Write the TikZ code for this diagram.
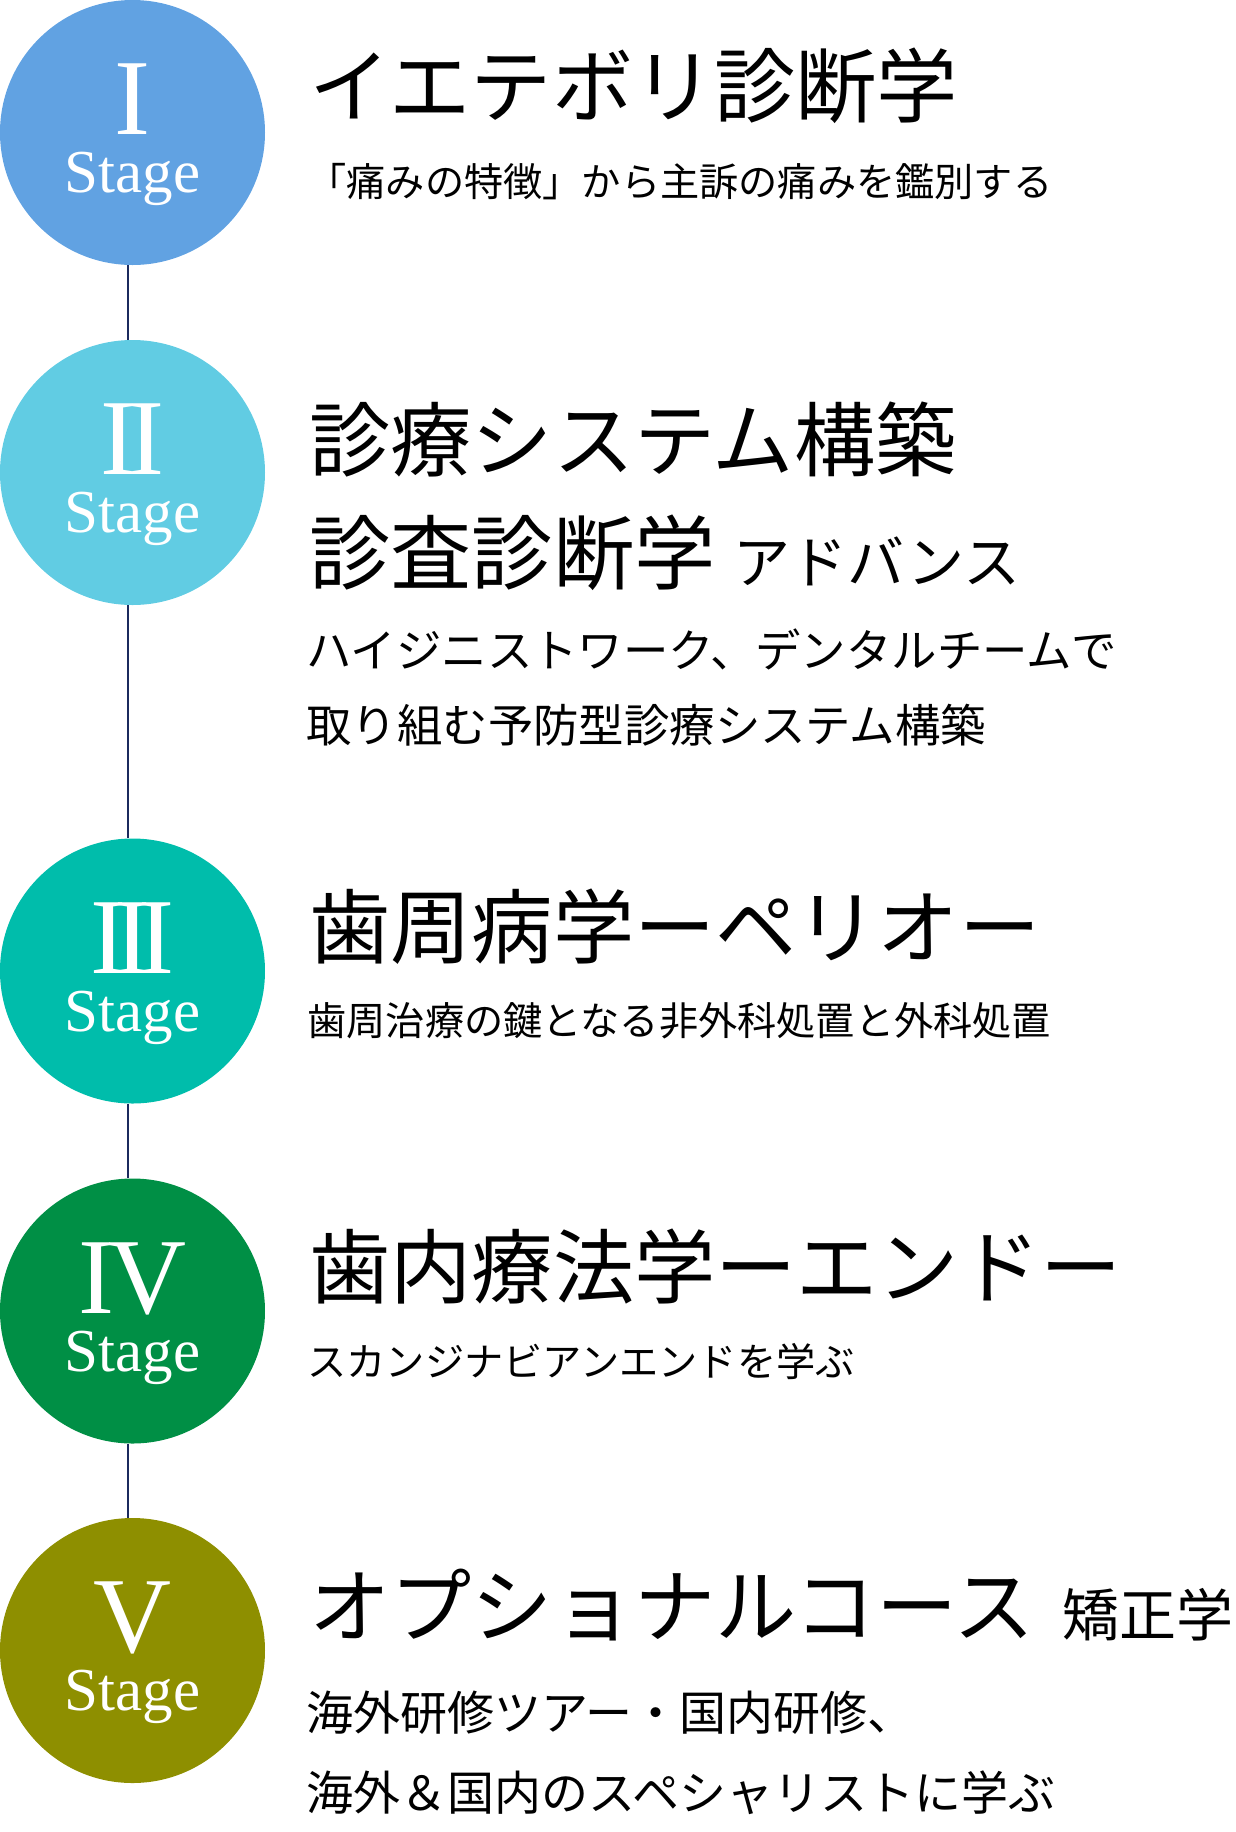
\documentclass[tikz,border=0pt]{standalone}
\usepackage{fontspec}
\setmainfont{Liberation Serif}
\newfontfamily\jp{Noto Sans CJK JP}
\definecolor{stageone}{HTML}{61A2E2}
\definecolor{stagetwo}{HTML}{61CCE3}
\definecolor{stagethree}{HTML}{00BDAB}
\definecolor{stagefour}{HTML}{008F45}
\definecolor{stagefive}{HTML}{8E8F00}
\definecolor{linknavy}{HTML}{1B2A5E}
\newcommand\smalljp{\fontsize{28.5}{34}\selectfont}
\tikzset{
  stage/.style={circle, fill=#1, minimum size=132.5pt, inner sep=0pt},
  numeral/.style={anchor=base, inner sep=0pt, text depth=0pt, text=white, font=\fontsize{54}{60}\selectfont},
  stagelabel/.style={anchor=base, inner sep=0pt, text height=0.7em, text=white, font=\fontsize{30.5}{36}\selectfont},
  title/.style={anchor=base west, inner sep=0pt, font=\jp\fontsize{40.6}{48}\selectfont},
  subtitle/.style={anchor=base west, inner sep=0pt, font=\jp\fontsize{19.6}{23}\selectfont},
  body/.style={anchor=base west, inner sep=0pt, font=\jp\fontsize{22.7}{28}\selectfont},
  bodywide/.style={anchor=base west, inner sep=0pt, font=\jp\fontsize{23.5}{28}\selectfont},
  link/.style={draw=linknavy, line width=1.35pt}
}
\begin{document}
\begin{tikzpicture}[x=0.5pt, y=-0.5pt]
\useasboundingbox (0,0) rectangle (1236,1832);
% stage circles
\node [stage=stageone] (s1) at (132.5,132.5) {};
\node [stage=stagetwo] (s2) at (132.5,472.5) {};
\node [stage=stagethree] (s3) at (132.5,971) {};
\node [stage=stagefour] (s4) at (132.5,1311) {};
\node [stage=stagefive] (s5) at (132.5,1650.5) {};
\draw [link] ([xshift=-2.25pt]s1.south) -- ([xshift=-2.25pt]s2.north);
\draw [link] ([xshift=-2.25pt]s2.south) -- ([xshift=-2.25pt]s3.north);
\draw [link] ([xshift=-2.25pt]s3.south) -- ([xshift=-2.25pt]s4.north);
\draw [link] ([xshift=-2.25pt]s4.south) -- ([xshift=-2.25pt]s5.north);
\node [numeral] (n1) at (132.5,134.5) {I};
\node [stagelabel] (l1) at (132.5,192.5) {Stage};
\node [numeral] (n2) at (132.5,474.5) {I\kern-4pt I};
\node [stagelabel] (l2) at (132.5,532.5) {Stage};
\node [numeral] (n3) at (132.5,973) {I\kern-6pt I\kern-6pt I};
\node [stagelabel] (l3) at (132.5,1031) {Stage};
\node [numeral] (n4) at (132.5,1313) {I\kern-3pt V};
\node [stagelabel] (l4) at (132.5,1371) {Stage};
\node [numeral] (n5) at (132.5,1652.5) {V};
\node [stagelabel] (l5) at (132.5,1710.5) {Stage};
% texts
\node [title] (t1) at (309,116.4) {イエテボリ診断学};
\node [subtitle] (d1) at (307,196.6) {「痛みの特徴」から主訴の痛みを鑑別する};
\node [title] (t2) at (309,470.4) {診療システム構築};
\node [title] (t2b) at (309,583.4) {診査診断学\hspace{9pt}{\smalljp アドバンス}};
\node [body] (d2) at (306,667.5) {ハイジニストワーク、デンタルチームで};
\node [body] (d2b) at (306,742.5) {取り組む予防型診療システム構築};
\node [title] (t3) at (309,957.4) {歯周病学ーペリオー};
\node [subtitle] (d3) at (307,1035.6) {歯周治療の鍵となる非外科処置と外科処置};
\node [title] (t4) at (309,1297.4) {歯内療法学ーエンドー};
\node [subtitle] (d4) at (307,1376.6) {スカンジナビアンエンドを学ぶ};
\node [title] (t5) at (309,1636.4) {オプショナルコース\hspace{14pt}{\smalljp 矯正学}};
\node [bodywide] (d5) at (306,1730.5) {海外研修ツアー・国内研修、};
\node [bodywide] (d5b) at (306,1810.5) {海外＆国内のスペシャリストに学ぶ};
\end{tikzpicture}
\end{document}
